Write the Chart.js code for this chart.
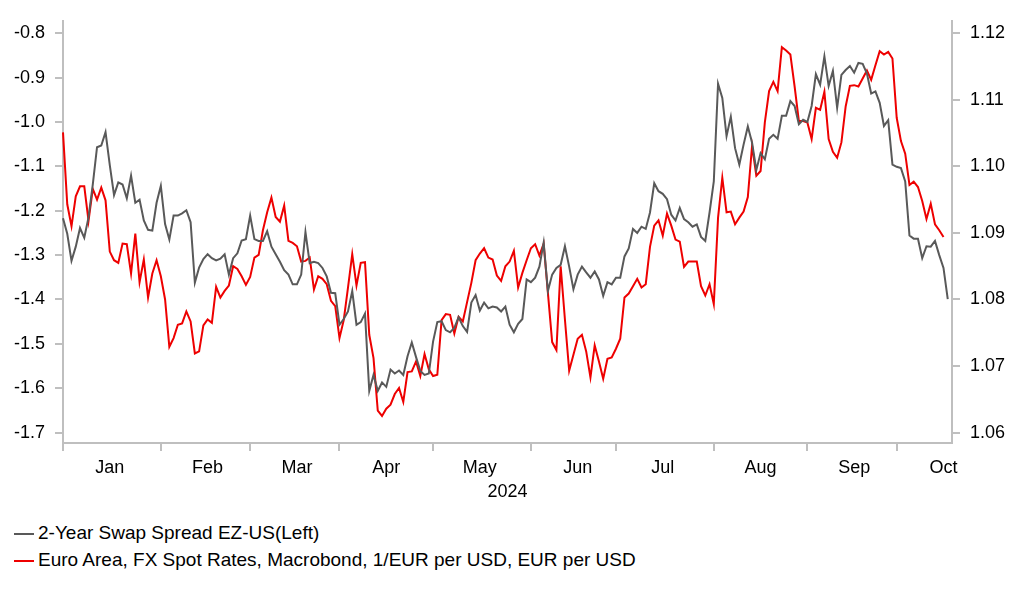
<!DOCTYPE html>
<html>
<head>
<meta charset="utf-8">
<script src="https://cdn.jsdelivr.net/npm/chart.js@4.4.1/dist/chart.umd.min.js"></script>
<style>
  body { margin: 0; background: #fff; font-family: "Liberation Sans", Arial, sans-serif; }
  #wrap { position: relative; width: 1022px; height: 510px; }
  #legend { position: absolute; left: 14px; top: 519px; font-size: 19px; color: #000; }
  #legend div { height: 27px; line-height: 27px; white-space: nowrap; }
  #legend span.swatch { display: inline-block; width: 20px; height: 2px; margin-right: 4px; vertical-align: middle; }
</style>
</head>
<body>
<div id="wrap"><canvas id="chart" width="1022" height="510"></canvas></div>
<div id="legend"></div>
<script>
// month tick labels and axis ticks
const monthNames = ['Jan', 'Feb', 'Mar', 'Apr', 'May', 'Jun', 'Jul', 'Aug', 'Sep', 'Oct'];
const leftTicks = [-1.7, -1.6, -1.5, -1.4, -1.3, -1.2, -1.1, -1.0, -0.9, -0.8];
const rightTicks = [1.06, 1.07, 1.08, 1.09, 1.10, 1.11, 1.12];
const yearLabel = '2024';

// 2-year swap spread EZ-US, daily (weekdays from 1 Jan 2024)
const swapSpread = [
  -1.217, -1.252, -1.313, -1.281, -1.239, -1.261, -1.215, -1.141, -1.057, -1.053,
  -1.023, -1.097, -1.165, -1.136, -1.141, -1.172, -1.121, -1.182, -1.175, -1.222,
  -1.243, -1.245, -1.182, -1.144, -1.230, -1.265, -1.211, -1.211, -1.206, -1.199,
  -1.226, -1.362, -1.328, -1.309, -1.298, -1.307, -1.312, -1.308, -1.298, -1.344,
  -1.307, -1.296, -1.267, -1.264, -1.211, -1.264, -1.268, -1.268, -1.246, -1.281,
  -1.298, -1.315, -1.334, -1.344, -1.366, -1.366, -1.344, -1.248, -1.318, -1.315,
  -1.318, -1.329, -1.348, -1.385, -1.386, -1.457, -1.444, -1.427, -1.381, -1.457,
  -1.451, -1.432, -1.606, -1.570, -1.606, -1.587, -1.597, -1.558, -1.567, -1.560,
  -1.570, -1.528, -1.497, -1.530, -1.561, -1.570, -1.567, -1.495, -1.451, -1.449,
  -1.469, -1.474, -1.464, -1.440, -1.460, -1.473, -1.407, -1.390, -1.425, -1.407,
  -1.420, -1.416, -1.418, -1.427, -1.416, -1.457, -1.474, -1.455, -1.444, -1.355,
  -1.361, -1.351, -1.326, -1.272, -1.381, -1.344, -1.329, -1.322, -1.280, -1.326,
  -1.377, -1.344, -1.326, -1.339, -1.351, -1.337, -1.355, -1.392, -1.361, -1.366,
  -1.351, -1.351, -1.303, -1.285, -1.241, -1.250, -1.236, -1.241, -1.204, -1.138,
  -1.156, -1.162, -1.174, -1.209, -1.222, -1.194, -1.219, -1.226, -1.236, -1.231,
  -1.259, -1.268, -1.204, -1.134, -0.914, -0.946, -1.032, -0.988, -1.059, -1.096,
  -1.051, -1.010, -1.047, -1.108, -1.070, -1.084, -1.038, -1.029, -1.038, -0.986,
  -0.986, -0.953, -0.964, -1.005, -0.995, -1.000, -0.964, -0.892, -0.916, -0.852,
  -0.919, -0.885, -0.968, -0.894, -0.883, -0.874, -0.889, -0.867, -0.869, -0.891,
  -0.936, -0.931, -0.957, -1.009, -0.996, -1.096, -1.101, -1.104, -1.134, -1.256,
  -1.263, -1.263, -1.307, -1.280, -1.281, -1.268, -1.300, -1.329, -1.399
];

// EUR/USD spot, daily (weekdays from 1 Jan 2024)
const eurUsd = [
  1.1051, 1.0943, 1.0910, 1.0955, 1.0970, 1.0970, 1.0918, 1.0966, 1.0950, 1.0968,
  1.0949, 1.0872, 1.0859, 1.0855, 1.0884, 1.0883, 1.0839, 1.0899, 1.0826, 1.0860,
  1.0803, 1.0839, 1.0859, 1.0835, 1.0800, 1.0729, 1.0742, 1.0762, 1.0764, 1.0782,
  1.0767, 1.0719, 1.0722, 1.0761, 1.0770, 1.0765, 1.0819, 1.0803, 1.0813, 1.0821,
  1.0850, 1.0846, 1.0835, 1.0822, 1.0834, 1.0863, 1.0867, 1.0904, 1.0931, 1.0953,
  1.0924, 1.0917, 1.0941, 1.0888, 1.0885, 1.0880, 1.0857, 1.0858, 1.0863, 1.0815,
  1.0835, 1.0831, 1.0823, 1.0798, 1.0790, 1.0742, 1.0769, 1.0818, 1.0868, 1.0821,
  1.0855, 1.0856, 1.0747, 1.0712, 1.0633, 1.0625, 1.0636, 1.0642, 1.0658, 1.0667,
  1.0646, 1.0691, 1.0692, 1.0707, 1.0685, 1.0718, 1.0695, 1.0685, 1.0687, 1.0769,
  1.0778, 1.0777, 1.0749, 1.0774, 1.0767, 1.0796, 1.0825, 1.0859, 1.0869, 1.0877,
  1.0863, 1.0860, 1.0836, 1.0828, 1.0850, 1.0857, 1.0873, 1.0818, 1.0840, 1.0859,
  1.0877, 1.0883, 1.0866, 1.0884, 1.0810, 1.0736, 1.0724, 1.0850, 1.0770, 1.0693,
  1.0717, 1.0741, 1.0747, 1.0722, 1.0683, 1.0731, 1.0707, 1.0681, 1.0711, 1.0713,
  1.0726, 1.0741, 1.0803, 1.0809, 1.0820, 1.0831, 1.0818, 1.0823, 1.0879, 1.0911,
  1.0919, 1.0896, 1.0929, 1.0911, 1.0890, 1.0887, 1.0849, 1.0857, 1.0857, 1.0857,
  1.0820, 1.0806, 1.0823, 1.0793, 1.0923, 1.0983, 1.0931, 1.0932, 1.0913, 1.0923,
  1.0932, 1.0954, 1.1031, 1.0986, 1.0993, 1.1066, 1.1113, 1.1127, 1.1113, 1.1179,
  1.1174, 1.1168, 1.1120, 1.1068, 1.1068, 1.1066, 1.1041, 1.1088, 1.1085, 1.1112,
  1.1041, 1.1022, 1.1013, 1.1036, 1.1090, 1.1121, 1.1122, 1.1120, 1.1132, 1.1144,
  1.1130, 1.1152, 1.1173, 1.1168, 1.1172, 1.1162, 1.1073, 1.1038, 1.1019, 1.0972,
  1.0977, 1.0969, 1.0948, 1.0921, 1.0944, 1.0913, 1.0904, 1.0894
];

const seriesNames = [
  '2-Year Swap Spread EZ-US(Left)',
  'Euro Area, FX Spot Rates, Macrobond, 1/EUR per USD, EUR per USD'
];
const seriesColors = ['#595959', '#ee0000'];

// weekday calendar from 1 Jan to 18 Oct 2024
const dates = [];
for (let t = Date.UTC(2024, 0, 1); t <= Date.UTC(2024, 9, 18); t += 86400000) {
  const d = new Date(t);
  if (d.getUTCDay() !== 0 && d.getUTCDay() !== 6) dates.push(d);
}
const labels = dates.map(d => d.toISOString().slice(0, 10));
const monthStarts = [];
dates.forEach((d, i) => {
  if (i === 0 || d.getUTCMonth() !== dates[i - 1].getUTCMonth()) monthStarts.push(i);
});
const labelAt = {};
monthStarts.forEach((s, m) => { labelAt[Math.min(s + 11, dates.length - 1)] = monthNames[m]; });

const axisColor = '#bfbfbf';
Chart.defaults.font.family = '"Liberation Sans", Arial, sans-serif';
Chart.defaults.font.size = 18;
Chart.defaults.color = '#000';

new Chart(document.getElementById('chart').getContext('2d'), {
  type: 'line',
  data: {
    labels: labels,
    datasets: [
      { label: seriesNames[0], data: swapSpread, yAxisID: 'yL', borderColor: seriesColors[0], borderWidth: 2, pointRadius: 0, tension: 0 },
      { label: seriesNames[1], data: eurUsd, yAxisID: 'yR', borderColor: seriesColors[1], borderWidth: 2, pointRadius: 0, tension: 0 }
    ]
  },
  options: {
    responsive: false,
    animation: false,
    devicePixelRatio: 1,
    layout: { padding: { top: 13, left: 0, right: 0, bottom: 0 } },
    plugins: { legend: { display: false }, tooltip: { enabled: false } },
    scales: {
      x: {
        type: 'category',
        offset: false,
        border: { display: true, color: axisColor, width: 2 },
        grid: {
          drawOnChartArea: false,
          tickLength: 8,
          lineWidth: 2,
          color: ctx => monthStarts.includes(ctx.index) ? axisColor : 'rgba(0,0,0,0)'
        },
        ticks: {
          autoSkip: false,
          maxRotation: 0,
          padding: 6,
          callback: (v, i) => labelAt[i] || ''
        },
        title: { display: true, text: yearLabel, padding: { top: 0, bottom: 7 } },
        afterFit: s => { s.height = 67; }
      },
      yL: {
        position: 'left',
        min: -1.7235,
        max: -0.772,
        border: { display: true, color: axisColor, width: 2 },
        grid: { drawOnChartArea: false, tickLength: 8, color: axisColor, lineWidth: 2 },
        afterBuildTicks: s => { s.ticks = leftTicks.map(v => ({ value: v })); },
        ticks: { padding: 10, callback: v => v.toFixed(1) },
        afterFit: s => { s.width = 63; }
      },
      yR: {
        position: 'right',
        min: 1.05844,
        max: 1.12187,
        border: { display: true, color: axisColor, width: 2 },
        grid: { drawOnChartArea: false, tickLength: 8, color: axisColor, lineWidth: 2 },
        afterBuildTicks: s => { s.ticks = rightTicks.map(v => ({ value: v })); },
        ticks: { padding: 10, callback: v => v.toFixed(2) },
        afterFit: s => { s.width = 70; }
      }
    }
  }
});

const legend = document.getElementById('legend');
seriesNames.forEach((name, i) => {
  const row = document.createElement('div');
  const sw = document.createElement('span');
  sw.className = 'swatch';
  sw.style.background = seriesColors[i];
  row.appendChild(sw);
  row.appendChild(document.createTextNode(name));
  legend.appendChild(row);
});
</script>
</body>
</html>
